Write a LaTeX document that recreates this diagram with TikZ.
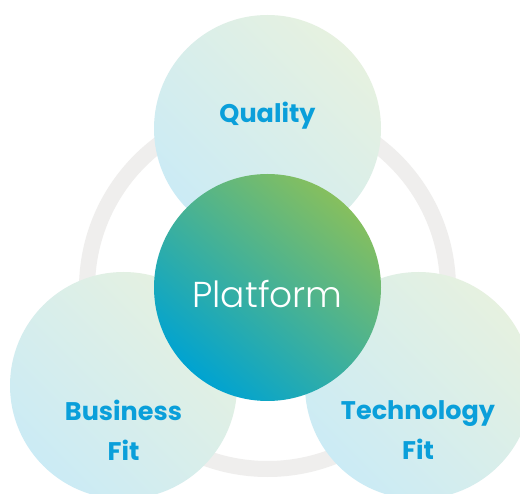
\documentclass[tikz,border=0pt]{standalone}
\usepackage{fontspec}
\IfFontExistsTF{Poppins}{\setmainfont{Poppins}}{\setmainfont{Lato}}
\IfFontExistsTF{Poppins Light}{\newfontfamily\lightfont{Poppins Light}}{\newfontfamily\lightfont{Poppins}}
\IfFontExistsTF{Poppins Bold}{\newfontfamily\boldfont{Poppins Bold}}{\newfontfamily\boldfont{Poppins}[FakeBold=2]}
\definecolor{ringgrey}{HTML}{EFEEED}
\definecolor{lblue}{HTML}{CBEBF5}
\definecolor{lgreen}{HTML}{E6F1E0}
\definecolor{pblue}{HTML}{00A3D1}
\definecolor{pgreen}{HTML}{86BF5E}
\definecolor{txtblue}{HTML}{0A9FDA}
\begin{document}
\begin{tikzpicture}[x=1pt,y=-1pt,
  petal/.style={circle, minimum size=227pt, inner sep=0pt, draw=none,
    top color=lgreen, bottom color=lblue, shading angle=-45},
  core/.style={circle, minimum size=227pt, inner sep=0pt, draw=none,
    top color=pgreen, bottom color=pblue, shading angle=-40},
  lbl/.style={text=txtblue, font=\boldfont\fontsize{25.5}{40}\selectfont, align=center}]
\useasboundingbox (0,0) rectangle (520,494);
\fill[white] (0,0) rectangle (520,494);
\draw[ringgrey, line width=16pt] (267.5,288.5) circle[radius=180.5pt];
\node[petal] (q) at (267.5,128.5) {};
\node[petal] (b) at (123.5,385.5) {};
\node[petal] (t) at (418.5,385.5) {};
\node[core] (p) at (267.5,287.5) {};
\node[lbl] (ql) at (267.5,116) {Quality};
\node[lbl] (bl) at (123.5,430) {Business\\Fit};
\node[lbl] (tl) at (418,430) {Technology\\Fit};
\node[text=white, font=\lightfont\fontsize{36}{40}\selectfont] (pl) at (267.5,294) {Platform};
\end{tikzpicture}
\end{document}
